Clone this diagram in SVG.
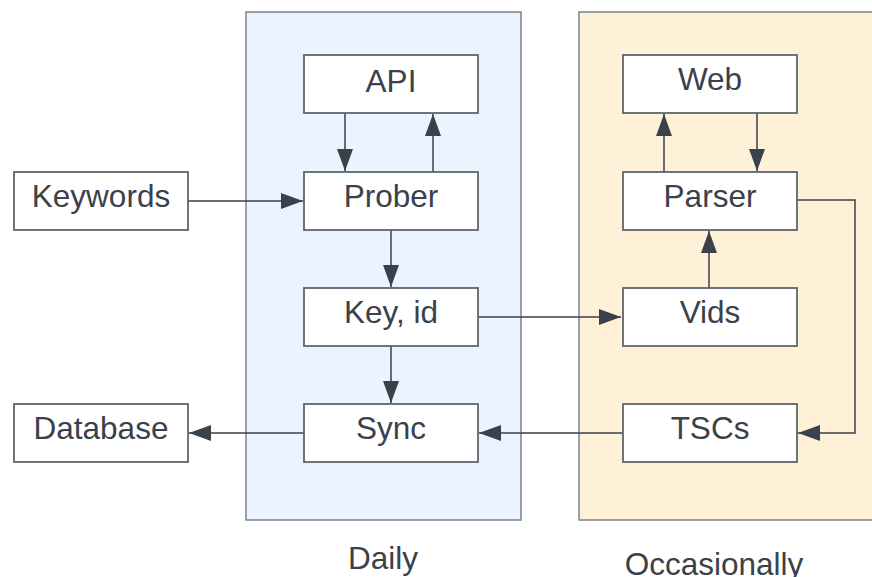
<svg xmlns="http://www.w3.org/2000/svg" width="872" height="577" viewBox="0 0 872 577">
  <style>
    .lane { stroke: #7d828a; stroke-width: 1.5; }
    .box { fill: #ffffff; stroke: #5f656e; stroke-width: 1.8; }
    .lbl { font-family: "Liberation Sans", Arial, sans-serif; font-size: 31.5px; fill: #3a414a; text-anchor: middle; }
    .edge { fill: none; stroke: #3a414a; stroke-width: 1.5; }
  </style>
  <defs>
    <marker id="arrow" viewBox="0 0 22 16" refX="22" refY="8" markerWidth="22" markerHeight="16" markerUnits="userSpaceOnUse" orient="auto">
      <path d="M0,0 L22,8 L0,16 Z" fill="#3a414a"/>
    </marker>
  </defs>

  <rect width="872" height="577" fill="#ffffff"/>

  <!-- swimlanes -->
  <g id="lane-daily">
    <rect class="lane" x="246" y="12" width="275" height="508" fill="#ebf3fe"/>
    <text class="lbl" x="383" y="569">Daily</text>
  </g>
  <g id="lane-occasionally">
    <rect class="lane" x="579" y="12" width="300" height="508" fill="#fff0d8"/>
    <text class="lbl" x="714" y="575">Occasionally</text>
  </g>

  <!-- connectors -->
  <g id="connectors">
    <path class="edge" d="M188,201 H303" marker-end="url(#arrow)"/>
    <path class="edge" d="M345,113 V171" marker-end="url(#arrow)"/>
    <path class="edge" d="M433,172 V114" marker-end="url(#arrow)"/>
    <path class="edge" d="M391,230 V287" marker-end="url(#arrow)"/>
    <path class="edge" d="M391,346 V403" marker-end="url(#arrow)"/>
    <path class="edge" d="M478,317 H621" marker-end="url(#arrow)"/>
    <path class="edge" d="M709,288 V231" marker-end="url(#arrow)"/>
    <path class="edge" d="M664,172 V114" marker-end="url(#arrow)"/>
    <path class="edge" d="M757,113 V171" marker-end="url(#arrow)"/>
    <path class="edge" d="M797,200 H855 V433 H798" marker-end="url(#arrow)"/>
    <path class="edge" d="M622,433 H479" marker-end="url(#arrow)"/>
    <path class="edge" d="M304,433 H189" marker-end="url(#arrow)"/>
  </g>

  <!-- nodes -->
  <g id="node-keywords">
    <rect class="box" x="14" y="172" width="174" height="58"/>
    <text class="lbl" x="101" y="207">Keywords</text>
  </g>
  <g id="node-database">
    <rect class="box" x="14" y="404" width="174" height="58"/>
    <text class="lbl" x="101" y="439">Database</text>
  </g>
  <g id="node-api">
    <rect class="box" x="304" y="55" width="174" height="58"/>
    <text class="lbl" x="391" y="92">API</text>
  </g>
  <g id="node-prober">
    <rect class="box" x="304" y="172" width="174" height="58"/>
    <text class="lbl" x="391" y="207">Prober</text>
  </g>
  <g id="node-keyid">
    <rect class="box" x="304" y="288" width="174" height="58"/>
    <text class="lbl" x="391" y="323">Key, id</text>
  </g>
  <g id="node-sync">
    <rect class="box" x="304" y="404" width="174" height="58"/>
    <text class="lbl" x="391" y="439">Sync</text>
  </g>
  <g id="node-web">
    <rect class="box" x="623" y="55" width="174" height="58"/>
    <text class="lbl" x="710" y="90">Web</text>
  </g>
  <g id="node-parser">
    <rect class="box" x="623" y="172" width="174" height="58"/>
    <text class="lbl" x="710" y="207">Parser</text>
  </g>
  <g id="node-vids">
    <rect class="box" x="623" y="288" width="174" height="58"/>
    <text class="lbl" x="710" y="323">Vids</text>
  </g>
  <g id="node-tscs">
    <rect class="box" x="623" y="404" width="174" height="58"/>
    <text class="lbl" x="710" y="439">TSCs</text>
  </g>
</svg>
